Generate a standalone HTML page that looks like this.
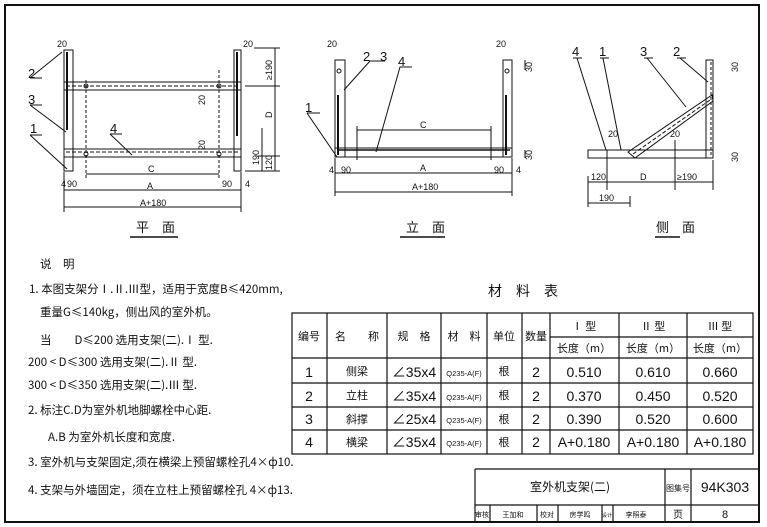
<!DOCTYPE html>
<html><head><meta charset="utf-8"><style>
body{margin:0;background:#fff;width:767px;height:527px;overflow:hidden}
svg{display:block}
text{font-family:"Liberation Sans","Noto Sans CJK SC",sans-serif;fill:#111}
.c{font-family:"Noto Sans CJK SC","WenQuanYi Zen Hei",sans-serif}
</style></head><body>
<svg width="767" height="527" viewBox="0 0 767 527" xmlns="http://www.w3.org/2000/svg">
<g stroke="#111" fill="none">
<rect x="5" y="5" width="754" height="517" stroke-width="2"/>

<!-- PLAN -->
<g stroke-width="1">
<rect x="64" y="50" width="9" height="121"/><line x1="67" y1="52" x2="67" y2="130" stroke-width="2"/>
<rect x="234" y="50" width="7" height="121"/><line x1="237" y1="52" x2="237" y2="136" stroke-width="2"/>
<rect x="64" y="82" width="177" height="8"/><line x1="66" y1="86" x2="240" y2="86" stroke-dasharray="4 2"/>
<rect x="64" y="149" width="177" height="8"/><line x1="66" y1="152" x2="240" y2="152" stroke-dasharray="4 2"/>
<circle cx="86" cy="86" r="2"/><circle cx="219" cy="86" r="2"/><circle cx="86" cy="154" r="2"/><circle cx="219" cy="154" r="2"/>
<line x1="86" y1="80" x2="86" y2="180" stroke-dasharray="3 2"/><line x1="219" y1="70" x2="219" y2="180" stroke-dasharray="3 2"/>
<line x1="86" y1="174" x2="219" y2="174"/>
<line x1="64" y1="190" x2="241" y2="190"/><line x1="64" y1="207" x2="241" y2="207"/>
<line x1="64" y1="172" x2="64" y2="212"/><line x1="241" y1="172" x2="241" y2="212"/>
<line x1="254" y1="48" x2="280" y2="48"/><line x1="245" y1="86" x2="280" y2="86"/><line x1="245" y1="171" x2="280" y2="171"/>
<line x1="275" y1="48" x2="275" y2="171"/><line x1="262" y1="128" x2="262" y2="171"/><line x1="258" y1="156" x2="280" y2="156"/>
<line x1="30" y1="78" x2="62" y2="52"/><line x1="30" y1="78" x2="42" y2="78"/>
<line x1="30" y1="105" x2="66" y2="132"/><line x1="30" y1="105" x2="42" y2="105"/>
<line x1="30" y1="135" x2="67" y2="169"/><line x1="30" y1="135" x2="42" y2="135"/>
<line x1="110" y1="134" x2="132" y2="155"/><line x1="110" y1="134" x2="122" y2="134"/>
<line x1="130" y1="237" x2="178" y2="237" stroke-width="1.5"/>
</g>

<!-- ELEVATION -->
<g stroke-width="1">
<rect x="335" y="60" width="10" height="97"/><line x1="338" y1="95" x2="338" y2="155" stroke-width="2"/>
<rect x="503" y="60" width="9" height="97"/><line x1="506" y1="95" x2="506" y2="155" stroke-width="2"/>
<rect x="335" y="148" width="177" height="9"/><line x1="337" y1="150" x2="510" y2="150" stroke-width="1.5"/>
<circle cx="339" cy="71" r="2"/><circle cx="507" cy="71" r="2"/>
<line x1="357" y1="130" x2="491" y2="130"/><line x1="357" y1="126" x2="357" y2="160"/><line x1="491" y1="126" x2="491" y2="160"/>
<line x1="335" y1="173" x2="512" y2="173"/><line x1="335" y1="192" x2="512" y2="192"/>
<line x1="335" y1="158" x2="335" y2="196"/><line x1="512" y1="158" x2="512" y2="196"/>
<line x1="525" y1="60" x2="525" y2="70"/><line x1="525" y1="150" x2="525" y2="158"/>
<line x1="307" y1="113" x2="337" y2="157"/><line x1="307" y1="113" x2="320" y2="113"/>
<line x1="370" y1="61" x2="344" y2="90"/><line x1="370" y1="61" x2="385" y2="61"/>
<line x1="400" y1="67" x2="376" y2="152"/><line x1="400" y1="67" x2="412" y2="67"/>
<line x1="400" y1="237" x2="445" y2="237" stroke-width="1.5"/>
</g>

<!-- SIDE -->
<g stroke-width="1">
<rect x="588" y="150" width="125" height="8"/>
<rect x="706" y="60" width="7" height="98"/><line x1="711" y1="62" x2="711" y2="156" stroke-dasharray="3 2"/>
<polygon points="628,152 712,95 713,101 635,158"/><line x1="633" y1="154" x2="710" y2="100" stroke-dasharray="4 2"/>
<line x1="577" y1="58" x2="606" y2="150"/><line x1="573" y1="58" x2="582" y2="58"/>
<line x1="603" y1="58" x2="621" y2="150"/><line x1="600" y1="58" x2="609" y2="58"/>
<line x1="647" y1="58" x2="686" y2="107"/><line x1="644" y1="58" x2="653" y2="58"/>
<line x1="680" y1="58" x2="708" y2="82"/><line x1="677" y1="58" x2="686" y2="58"/>
<line x1="588" y1="182" x2="713" y2="182"/><line x1="588" y1="203" x2="630" y2="203"/>
<line x1="607" y1="150" x2="607" y2="190"/><line x1="675" y1="140" x2="675" y2="190"/><line x1="713" y1="160" x2="713" y2="190"/>
<line x1="588" y1="176" x2="588" y2="207"/><line x1="630" y1="196" x2="630" y2="207"/>
<line x1="655" y1="237" x2="680" y2="237" stroke-width="1.5"/>
</g>

<!-- TABLE -->
<g stroke-width="1.2">
<rect x="292" y="313" width="461" height="141"/>
<line x1="550" y1="337" x2="753" y2="337"/>
<line x1="292" y1="358" x2="753" y2="358"/>
<line x1="292" y1="383" x2="753" y2="383"/><line x1="292" y1="407" x2="753" y2="407"/><line x1="292" y1="430" x2="753" y2="430"/>
<line x1="327" y1="313" x2="327" y2="454"/><line x1="387" y1="313" x2="387" y2="454"/><line x1="441" y1="313" x2="441" y2="454"/>
<line x1="487" y1="313" x2="487" y2="454"/><line x1="522" y1="313" x2="522" y2="454"/><line x1="550" y1="313" x2="550" y2="454"/>
<line x1="619" y1="313" x2="619" y2="454"/><line x1="687" y1="313" x2="687" y2="454"/>
</g>
<!-- TITLE BLOCK -->
<g stroke-width="1.2">
<line x1="475" y1="469" x2="759" y2="469"/><line x1="475" y1="469" x2="475" y2="522"/>
<line x1="475" y1="505" x2="759" y2="505"/>
<line x1="665" y1="469" x2="665" y2="522"/><line x1="691" y1="469" x2="691" y2="522"/>
<line x1="490" y1="505" x2="490" y2="522"/><line x1="537" y1="505" x2="537" y2="522"/><line x1="558" y1="505" x2="558" y2="522"/>
<line x1="602" y1="505" x2="602" y2="522"/><line x1="613" y1="505" x2="613" y2="522"/>
</g>
</g>

<g font-size="9">
<text x="57" y="47">20</text><text x="243" y="47">20</text>
<text x="61" y="187">4</text><text x="67" y="187">90</text><text x="222" y="187">90</text><text x="245" y="187">4</text>
<text x="148" y="172">C</text><text x="147" y="189">A</text><text x="140" y="206">A+180</text>
<text x="327" y="47">20</text><text x="496" y="47">20</text>
<text x="329" y="173">4</text><text x="341" y="173">90</text><text x="494" y="173">90</text><text x="516" y="173">4</text>
<text x="420" y="128">C</text><text x="420" y="171">A</text><text x="412" y="190">A+180</text>
<text x="608" y="137">20</text><text x="670" y="137">20</text>
<text x="591" y="180">120</text><text x="640" y="180">D</text><text x="677" y="180">≥190</text><text x="599" y="201">190</text>
<text transform="translate(272,80) rotate(-90)">≥190</text><text transform="translate(272,118) rotate(-90)">D</text>
<text transform="translate(259,165) rotate(-90)">190</text><text transform="translate(272,170) rotate(-90)">120</text>
<text transform="translate(205,105) rotate(-90)">20</text><text transform="translate(205,150) rotate(-90)">20</text>
<text transform="translate(532,72) rotate(-90)">30</text><text transform="translate(532,160) rotate(-90)">30</text>
<text transform="translate(738,72) rotate(-90)">30</text><text transform="translate(738,162) rotate(-90)">30</text>
</g>
<g font-size="13">
<text x="28" y="78">2</text><text x="28" y="104">3</text><text x="30" y="133">1</text><text x="110" y="133">4</text>
<text x="305" y="112">1</text><text x="363" y="61">2</text><text x="380" y="61">3</text><text x="398" y="66">4</text>
<text x="572" y="56">4</text><text x="599" y="56">1</text><text x="640" y="56">3</text><text x="673" y="56">2</text>
</g>
<g class="c" font-size="13">
<text x="136" y="232" class="c">平　面</text><text x="406" y="232" class="c">立　面</text><text x="656" y="232" class="c">侧　面</text>
<text x="488" y="296" class="c" font-size="14">材　料　表</text>
</g>
<g class="c" font-size="11.5">
<text x="40" y="268" class="c">说　明</text>
<text x="29" y="293" class="c">1. 本图支架分Ⅰ.Ⅱ.Ⅲ型，适用于宽度B≤420mm,</text>
<text x="40" y="316" class="c">重量G≤140kg，侧出风的室外机。</text>
<text x="40" y="344" class="c">当　　D≤200 选用支架(二).Ⅰ 型.</text>
<text x="28" y="366" class="c">200 &lt; D≤300 选用支架(二).Ⅱ 型.</text>
<text x="28" y="389" class="c">300 &lt; D≤350 选用支架(二).Ⅲ 型.</text>
<text x="28" y="414" class="c">2. 标注C.D为室外机地脚螺栓中心距.</text>
<text x="48" y="441" class="c">A.B 为室外机长度和宽度.</text>
<text x="28" y="466" class="c">3. 室外机与支架固定,须在横梁上预留螺栓孔4×ф10.</text>
<text x="28" y="494" class="c">4. 支架与外墙固定，须在立柱上预留螺栓孔 4×ф13.</text>
</g>
<g class="c" font-size="11" text-anchor="middle">
<text x="309" y="340" class="c">编号</text><text x="357" y="340" class="c">名　　称</text><text x="414" y="340" class="c">规　格</text>
<text x="464" y="340" class="c">材　料</text><text x="504" y="340" class="c">单位</text><text x="536" y="340" class="c">数量</text>
<text x="584" y="330" class="c">Ⅰ 型</text><text x="653" y="330" class="c">Ⅱ 型</text><text x="720" y="330" class="c">Ⅲ 型</text>
<text x="584" y="352" class="c">长度（m）</text><text x="653" y="352" class="c">长度（m）</text><text x="720" y="352" class="c">长度（m）</text>
<text x="357" y="375" class="c">侧梁</text><text x="357" y="399" class="c">立柱</text><text x="357" y="423" class="c">斜撑</text><text x="357" y="446" class="c">横梁</text>
<text x="504" y="375" class="c">根</text><text x="504" y="399" class="c">根</text><text x="504" y="423" class="c">根</text><text x="504" y="446" class="c">根</text>
<text x="570" y="491" class="c" font-size="12">室外机支架(二)</text>
<text x="678" y="491" class="c" font-size="8">图集号</text><text x="678" y="518" class="c" font-size="10">页</text>
</g>
<g class="c" font-size="7" text-anchor="middle">
<text x="482" y="517" class="c">审核</text><text x="513" y="517" class="c">王加和</text><text x="547" y="517" class="c">校对</text>
<text x="580" y="517" class="c">房学鸣</text><text x="607" y="517" class="c" font-size="5">设计</text><text x="636" y="517" class="c">李照泰</text>
</g>
<g font-size="14" text-anchor="middle">
<text x="309" y="377">1</text><text x="309" y="401">2</text><text x="309" y="424">3</text><text x="309" y="447">4</text>
<text x="536" y="377">2</text><text x="536" y="401">2</text><text x="536" y="424">2</text><text x="536" y="447">2</text>
<text x="584" y="377">0.510</text><text x="653" y="377">0.610</text><text x="720" y="377">0.660</text>
<text x="584" y="401">0.370</text><text x="653" y="401">0.450</text><text x="720" y="401">0.520</text>
<text x="584" y="424">0.390</text><text x="653" y="424">0.520</text><text x="720" y="424">0.600</text>
<text x="584" y="447">A+0.180</text><text x="653" y="447">A+0.180</text><text x="720" y="447">A+0.180</text>
<text x="414" y="377">∠35x4</text><text x="414" y="401">∠35x4</text><text x="414" y="424">∠25x4</text><text x="414" y="447">∠35x4</text>
<text x="725" y="492">94K303</text><text x="725" y="518" font-size="11">8</text>
</g>
<g font-size="7.5" text-anchor="middle">
<text x="464" y="376">Q235-A(F)</text><text x="464" y="400">Q235-A(F)</text><text x="464" y="423">Q235-A(F)</text><text x="464" y="446">Q235-A(F)</text>
</g>
</svg>
</body></html>
